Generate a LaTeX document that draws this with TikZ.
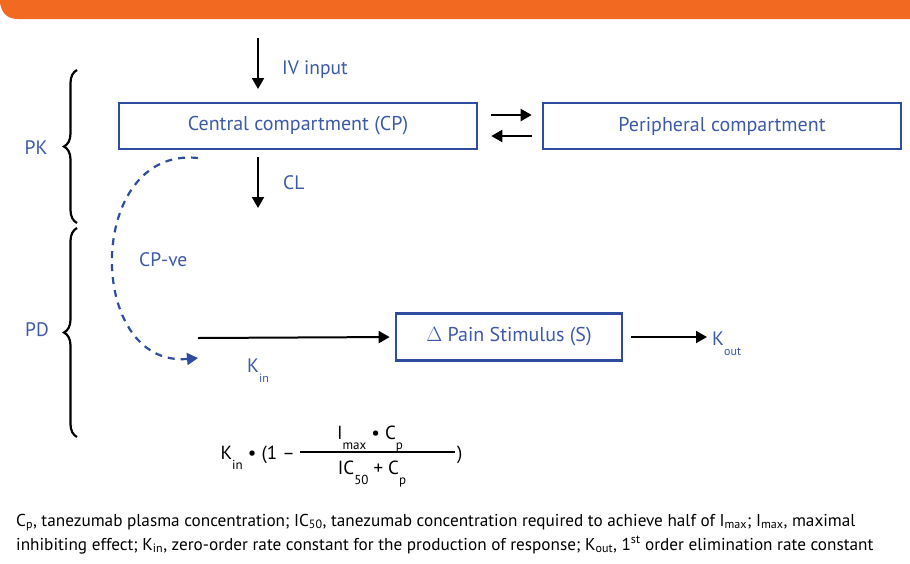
\documentclass[tikz,border=0pt]{standalone}
\usepackage{fontspec}
\setmainfont{PT Sans}
\usetikzlibrary{arrows.meta,decorations.pathreplacing}
\definecolor{barorange}{HTML}{F26922}
\definecolor{boxblue}{HTML}{2F4DA0}
\definecolor{txtblue}{HTML}{3D5AA8}
\newcommand\lsub[2]{\raisebox{-#1}{\fontsize{#2}{#2}\selectfont}}
\newcommand\lowsub[3][0.55ex]{\raisebox{-#1}{\fontsize{#2}{#2}\selectfont #3}}
\tikzset{
  cbox/.style={draw=boxblue,line width=2.6pt,minimum height=46pt,inner sep=0pt,text=txtblue,font=\fontsize{20}{22}\selectfont},
  lbl/.style={text=txtblue,font=\fontsize{19.5}{22}\selectfont,inner sep=0pt},
  arr/.style={line width=2pt,-{Triangle[length=11pt,width=12pt]}},
  brc/.style={decorate,decoration={brace,amplitude=13pt},line width=2.2pt},
  fml/.style={font=\fontsize{19}{21}\selectfont,inner sep=0pt},
  note/.style={font=\fontsize{17.2}{20}\selectfont,inner sep=0pt,anchor=base west}
}
\begin{document}
\begin{tikzpicture}[x=1pt,y=-1pt]
\useasboundingbox (0,0) rectangle (910,563);
% top bar
\fill[barorange] (0,0) -- (910,0) -- (910,19) -- (18,19) .. controls (8,19) and (2,14) .. (0,3) -- cycle;
% braces
\draw[brc] (77,223) -- (77,70);
\draw[brc] (77,437) -- (77,228);
\node[lbl] (pk) at (36,148) {PK};
\node[lbl] (pd) at (37,330) {PD};
% boxes
\node[cbox,minimum width=358pt] (central) at (298,126) {Central compartment (CP)};
\node[cbox,minimum width=358pt] (periph) at (722,126) {Peripheral compartment};
\node[cbox,minimum width=226pt,minimum height=47pt] (pain) at (509,337) {$\Delta$ Pain Stimulus (S)};
% exchange arrows
\draw[arr] ([xshift=13pt,yshift=11pt]central.east) -- ([xshift=-10pt,yshift=11pt]periph.west);
\draw[arr] ([xshift=-10pt,yshift=-10pt]periph.west) -- ([xshift=13pt,yshift=-10pt]central.east);
% IV input
\coordinate (ivtop) at (258,38);
\coordinate (ivend) at (258,89);
\draw[arr] (ivtop) -- (ivend);
\node[lbl,anchor=west] (iv) at (282,70) {IV input};
% CL
\coordinate (cltop) at (258,157);
\coordinate (clend) at (258,208);
\draw[arr] (cltop) -- (clend);
\node[lbl,anchor=west] (cl) at (283,183) {CL};
% dashed feedback
\coordinate (dstart) at (198,158);
\coordinate (dend) at (198,358);
\draw[boxblue,line width=2.2pt,dash pattern=on 7pt off 6pt,-{Triangle[length=11pt,width=12pt]}] (dstart) .. controls (85,146) and (85,368) .. (dend);
\node[lbl,anchor=west] (cpve) at (139,260) {CP-ve};
% Kin line
\coordinate (kinstart) at (198,338);
\draw[arr,shorten >=5pt] (kinstart) -- (pain.west);
\node[lbl,anchor=base west] (kin) at (247,372) {K\lowsub[1.1ex]{12}{in}};
% Kout
\node[lbl,anchor=base west] (kout) at (712,345) {K\lowsub[1.1ex]{12}{out}};
\draw[arr,shorten >=5pt] ([xshift=8pt]pain.east) -- (pain.east -| kout.west);
% formula
\node[fml,anchor=base east] (fa) at (295,459) {K\lowsub[1.1ex]{13}{in} • (1 –};
\coordinate (fl) at (300,452);
\coordinate (fr) at (455,452);
\draw[line width=2.4pt] (fl) -- (fr);
\node[fml,anchor=base] (num) at (370,439) {I\lowsub[1.1ex]{13}{max} • C\lowsub[1.1ex]{13}{p}};
\node[fml,anchor=base] (den) at (372,474) {IC\lowsub[1.1ex]{13}{50} + C\lowsub[1.1ex]{13}{p}};
\node[fml,anchor=base west] (fc) at (457,459) {)};
% footnote
\node[note] (n1) at (16,526) {C\textsubscript{p}, tanezumab plasma concentration; IC\textsubscript{50}, tanezumab concentration required to achieve half of I\textsubscript{max}; I\textsubscript{max}, maximal};
\node[note] (n2) at (16,550) {inhibiting effect; K\textsubscript{in}, zero-order rate constant for the production of response; K\textsubscript{out}, 1\textsuperscript{st} order elimination rate constant};
\end{tikzpicture}
\end{document}
